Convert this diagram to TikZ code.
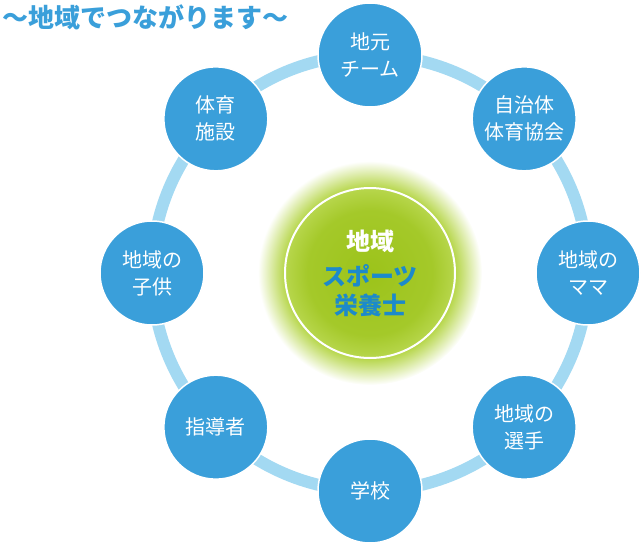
\documentclass[tikz,border=0pt]{standalone}
\usepackage{fontspec}
\setmainfont{Noto Sans CJK JP}
\usepackage{tikz}

\definecolor{bleu}{HTML}{3A9FDA}
\definecolor{bleuclair}{HTML}{A3D9F2}
\definecolor{bleufonce}{HTML}{1C8ACB}
\definecolor{vert}{HTML}{9CC31A}
\definecolor{vertclair}{HTML}{B8D74E}
\pgfdeclareradialshading{halo}{\pgfpoint{0bp}{0bp}}{%
  color(0bp)=(vert); color(14bp)=(vert!70!vertclair); color(19.2bp)=(vertclair);
  color(21bp)=(vertclair!70!white); color(25bp)=(white); color(50bp)=(white)}

\tikzset{
  pastille/.style={circle, minimum size=104pt, fill=bleu, draw=white, line width=1.5pt,
    text=white, align=center, font=\fontsize{20}{27}\selectfont, inner sep=0pt},
  moyeu/.style={circle, minimum size=170pt, draw=white, line width=2pt, align=center,
    inner sep=0pt, text=bleufonce, font=\fontsize{24}{29}\bfseries\selectfont},
  anneau/.style={draw=bleuclair, line width=12pt},
  titre/.style={text=bleu, font=\fontsize{26}{30}\bfseries\selectfont, inner sep=0pt},
}

\begin{document}
\begin{tikzpicture}
  \useasboundingbox (0,0) rectangle (641pt,-544pt);
  \coordinate (hub) at (370pt,-273pt);
  % halo vert autour du centre
  \shade[shading=halo] (hub) circle[radius=112pt];
  \node[moyeu] (centre) at (hub) {\textcolor{white}{地域}\\[6pt] スポーツ\\栄養士};
  \draw[anneau] (hub) circle[radius=218pt];
  \foreach \a/\nom/\txt in {90/jimoto/{地元\\チーム}, 45/kyokai/{自治体\\体育協会},
      0/mama/{地域の\\ママ}, -45/senshu/{地域の\\選手}, -90/gakko/{学校},
      -135/shido/{指導者}, 180/kodomo/{地域の\\子供}, 135/shisetsu/{体育\\施設}}
    \node[pastille] (\nom) at ([shift={(\a:218pt)}]hub) {\txt};
  \node[titre, anchor=west] (titre) at (2pt,-17pt) {～地域でつながります～};
\end{tikzpicture}
\end{document}
